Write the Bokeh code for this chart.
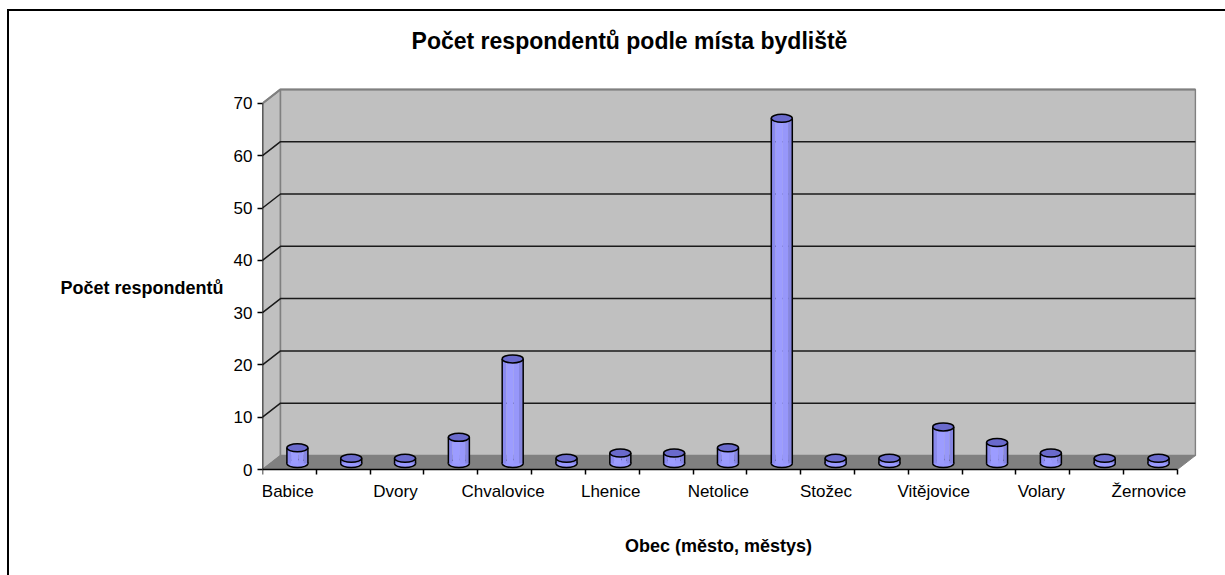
from bokeh.plotting import figure
from bokeh.embed import file_html
from bokeh.resources import INLINE
from bokeh.models import FixedTicker, Range1d
from bokeh.core.properties import value

categories = ["Babice", "", "Dvory", "", "Chvalovice", "", "Lhenice", "", "Netolice", "",
              "Stožec", "", "Vitějovice", "", "Volary", "", "Žernovice"]
counts = [3, 1, 1, 5, 20, 1, 2, 2, 3, 66, 1, 1, 7, 4, 2, 1, 1]
y_ticks = [0, 10, 20, 30, 40, 50, 60, 70]
title_text = "Počet respondentů podle místa bydliště"
x_title = "Obec (město, městys)"
y_title = "Počet respondentů"

FONT = "Liberation Sans"
W, H = 1225, 575
PX_X, PX_Y = 53.82, 5.23         # pixels per category, per respondent
DX, DY = 18 / PX_X, 14 / PX_Y    # 3-D depth in data units
n = len(categories)
# frame is padded above and below the walls: it holds the titles and x labels and centres the y-axis title
frame_l, frame_t, frame_r, frame_zero, frame_b = 262, 19, 1196, 469, 555
ymax = (frame_zero - frame_t) / PX_Y
ymin = (frame_zero - frame_b) / PX_Y
xmax = (frame_r - frame_l) / PX_X

p = figure(width=W, height=H, output_backend="svg", toolbar_location=None,
           x_range=Range1d(0, xmax), y_range=Range1d(ymin, ymax),
           min_border_left=frame_l, min_border_right=W - frame_r,
           min_border_top=frame_t, min_border_bottom=H - frame_b,
           background_fill_color=None, border_fill_color=None)
p.outline_line_color = None
p.grid.visible = False
# outer chart border: open to the right and bottom of the window
p.styles = {
    "background": "linear-gradient(black,black) 8px 9px/1225px 2px no-repeat,"
                  "linear-gradient(black,black) 7px 9px/2px 575px no-repeat,white",
}

# walls and floor
p.patch([0, DX, DX, 0], [0, DY, 70 + DY, 70], fill_color="#c0c0c0", line_color="#808080", line_width=1.5)
p.patch([DX, n + DX, n + DX, DX], [DY, DY, 70 + DY, 70 + DY], fill_color="#c0c0c0", line_color="#808080", line_width=1.5)
p.patch([0, n, n + DX, DX], [0, 0, DY, DY], fill_color="#808080", line_color="#808080")

# gridlines
for v in y_ticks[1:-1]:
    p.line([0, DX, n + DX], [v, v + DY, v + DY], line_color="#1a1a1a", line_width=1.5)
p.line([0, DX, n + DX], [70, 70 + DY, 70 + DY], line_color="#808080", line_width=2)
p.line([0, 0], [0, 70], line_color="black", line_width=1.5)
p.line([0, n], [0, 0], line_color="black", line_width=1.5)

# cylinders
bar_w = 21 / PX_X
e_w, e_h = 21, 8
cx = [i + 0.5 + DX / 2 - 1 / PX_X for i in range(n)]
base = 6 / PX_Y
tops = [c + base for c in counts]
bases = [base] * n
strips = [(-0.5, -0.3, "#8a8aee"), (-0.3, 0.05, "#9c9cff"), (0.05, 0.3, "#9797fa"), (0.3, 0.5, "#8585e0")]
p.ellipse(cx, bases, width=e_w, height=e_h, width_units="screen", height_units="screen",
          fill_color="#9999ff", line_color="black", line_width=1.5)
for a, b, col in strips:
    p.quad(left=[c + a * bar_w for c in cx], right=[c + b * bar_w for c in cx],
           bottom=bases, top=tops, fill_color=col, line_color=None)
p.segment([c - bar_w / 2 for c in cx], bases, [c - bar_w / 2 for c in cx], tops, line_color="black", line_width=1.5)
p.segment([c + bar_w / 2 for c in cx], bases, [c + bar_w / 2 for c in cx], tops, line_color="black", line_width=1.5)
p.ellipse(cx, tops, width=e_w, height=e_h, width_units="screen", height_units="screen",
          fill_color="#6a6acc", line_color="black", line_width=1.5)

# axes
yax = p.yaxis[0]
yax.ticker = FixedTicker(ticks=y_ticks)
yax.axis_line_color = None
yax.major_tick_out = 5
yax.major_tick_in = 0
yax.major_tick_line_color = "black"
yax.major_tick_line_width = 1.5
yax.minor_tick_line_color = None
yax.major_label_text_font = FONT
yax.major_label_text_font_size = "17px"
yax.major_label_text_color = "black"
yax.major_label_standoff = 5
yax.axis_label = y_title
yax.axis_label_orientation = "horizontal"
yax.axis_label_text_font = FONT
yax.axis_label_text_font_size = "18px"
yax.axis_label_text_font_style = "bold"
yax.axis_label_text_color = "black"
yax.axis_label_standoff = 7

xax = p.xaxis[0]
xax.fixed_location = 0
centers = [i + 0.47 for i in range(n)]
xax.ticker = FixedTicker(ticks=centers, minor_ticks=list(range(n + 1)))
xax.major_label_overrides = {c: t for c, t in zip(centers, categories)}
xax.axis_line_color = None
xax.major_tick_line_color = None
xax.minor_tick_out = 5
xax.minor_tick_in = 0
xax.minor_tick_line_color = "black"
xax.minor_tick_line_width = 1.5
xax.major_label_text_font = FONT
xax.major_label_text_font_size = "17px"
xax.major_label_text_color = "black"
xax.major_label_standoff = 6


def add_text(text, page_x, page_y, size):
    p.text([(page_x - frame_l) / PX_X], [(frame_zero - page_y) / PX_Y], text=[text],
           text_font=value(FONT), text_font_size=size, text_font_style="bold", text_color="black",
           text_align="center", text_baseline="middle")


add_text(title_text, 629, 40, "23px")
add_text(x_title, 718, 545, "18px")

open("out.html", "w").write(file_html(p, INLINE))
